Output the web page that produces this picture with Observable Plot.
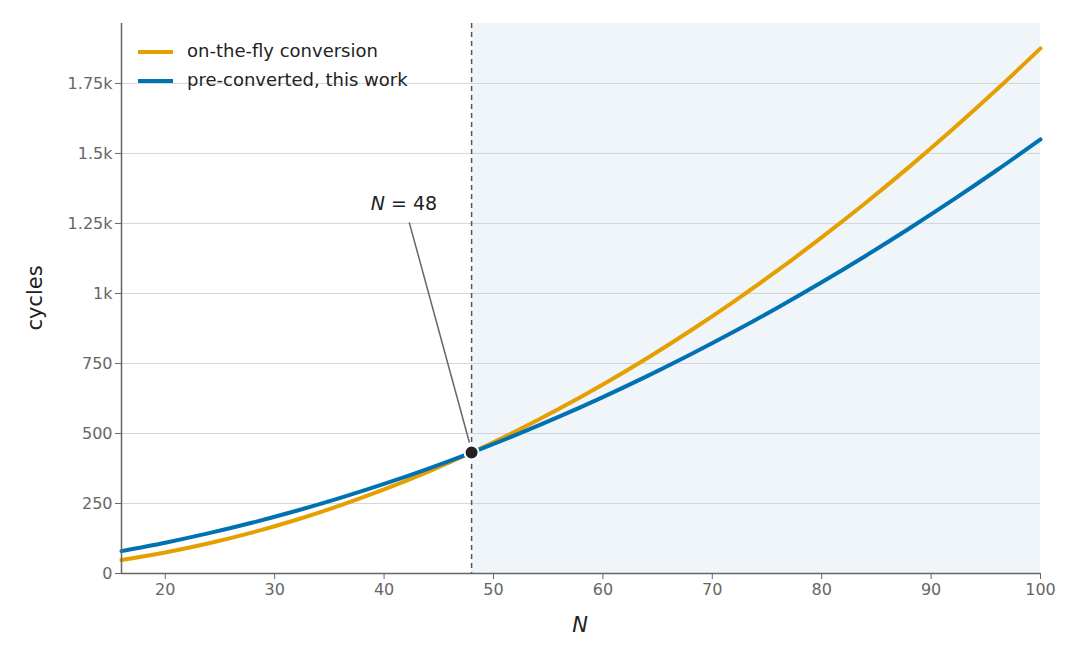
<!DOCTYPE html>
<html><head><meta charset="utf-8">
<script src="https://cdn.jsdelivr.net/npm/d3@7"></script>
<script src="https://cdn.jsdelivr.net/npm/@observablehq/plot@0.6"></script>
<style>body{margin:0;background:#fff;font-family:"DejaVu Sans",sans-serif}#wrap{position:relative;width:1080px;height:660px}
#leg{position:absolute;left:138px;top:36px;font-size:18px;color:#222;line-height:29px}
#leg span.l{display:inline-block;width:35px;height:4px;vertical-align:middle;margin-right:14px}</style>
</head><body><div id="wrap"><div id="leg">
<div><span class="l" style="background:#E69F00"></span>on-the-fly conversion</div>
<div><span class="l" style="background:#0072B2"></span>pre-converted, this work</div></div></div>
<script>
const N = [16,20,24,28,32,36,40,44,48,52,56,60,64,68,72,76,80,84,88,92,96,100];
const onTheFly = [48,75,108,147,192,243,300,363,432,507,588,675,768,867,972,1083,1200,1323,1452,1587,1728,1875];
const preConverted = [80,110,144,182,224,270,320,374,432,494,560,630,704,782,864,950,1040,1134,1232,1334,1440,1550];
const yTicks = [0,250,500,750,1000,1250,1500,1750];
const yLabels = ["0","250","500","750","1k","1.25k","1.5k","1.75k"];
const xTicks = [20,30,40,50,60,70,80,90,100];
const crossN = 48, crossY = 432;
const orange = N.map((n,i)=>({n,v:onTheFly[i]}));
const blue = N.map((n,i)=>({n,v:preConverted[i]}));
const chart = Plot.plot({
  width:1080,height:660,marginLeft:121,marginRight:40,marginTop:23,marginBottom:87,
  style:{fontFamily:"DejaVu Sans",fontSize:"16px",color:"#666",background:"transparent"},
  x:{domain:[16,100],ticks:xTicks,label:null,tickSize:6},
  y:{domain:[0,1964],ticks:yTicks,tickFormat:d=>yLabels[yTicks.indexOf(d)],label:null,tickSize:6},
  marks:[
    Plot.rect([{}],{x1:crossN,x2:100,y1:0,y2:1964,fill:"#f0f5fa"}),
    Plot.gridY(yTicks.filter(d=>d>0),{stroke:"#ccc",strokeOpacity:0.8}),
    Plot.ruleX([crossN],{stroke:"#555",strokeDasharray:"5,4",strokeWidth:1.5}),
    Plot.line(orange,{x:"n",y:"v",stroke:"#E69F00",strokeWidth:4,curve:"catmull-rom"}),
    Plot.line(blue,{x:"n",y:"v",stroke:"#0072B2",strokeWidth:4,curve:"catmull-rom"}),
    Plot.link([{}],{x1:42.3,y1:1254,x2:47.8,y2:468,stroke:"#666",strokeWidth:1.5}),
    Plot.dot([{}],{x:crossN,y:crossY,r:7,fill:"#222",stroke:"#fff",strokeWidth:2}),
    Plot.axisX({ticks:xTicks,tickSize:6,fill:"#666",stroke:"#666",tickPadding:4}),
    Plot.axisY({ticks:yTicks,tickFormat:d=>yLabels[yTicks.indexOf(d)],tickSize:6,fill:"#666",stroke:"#666"}),
    Plot.ruleY([0],{stroke:"#666",strokeWidth:1.5}),
    Plot.ruleX([16],{stroke:"#666",strokeWidth:1.5})
  ]
});
const svg = d3.select(chart);
const t = svg.append("text").attr("x",404).attr("y",210).attr("text-anchor","middle").attr("font-size",19).attr("fill","#222");
t.append("tspan").attr("font-style","italic").text("N");
t.append("tspan").text(" = 48");
svg.append("text").attr("x",580).attr("y",632).attr("text-anchor","middle").attr("font-size",21).attr("font-style","italic").attr("fill","#222").text("N");
svg.append("text").attr("transform","translate(42,298) rotate(-90)").attr("text-anchor","middle").attr("font-size",21).attr("fill","#222").text("cycles");
document.getElementById("wrap").prepend(chart);
chart.style.position="absolute";chart.style.left="0";chart.style.top="0";
document.getElementById("leg").style.zIndex=2;
</script></body></html>
